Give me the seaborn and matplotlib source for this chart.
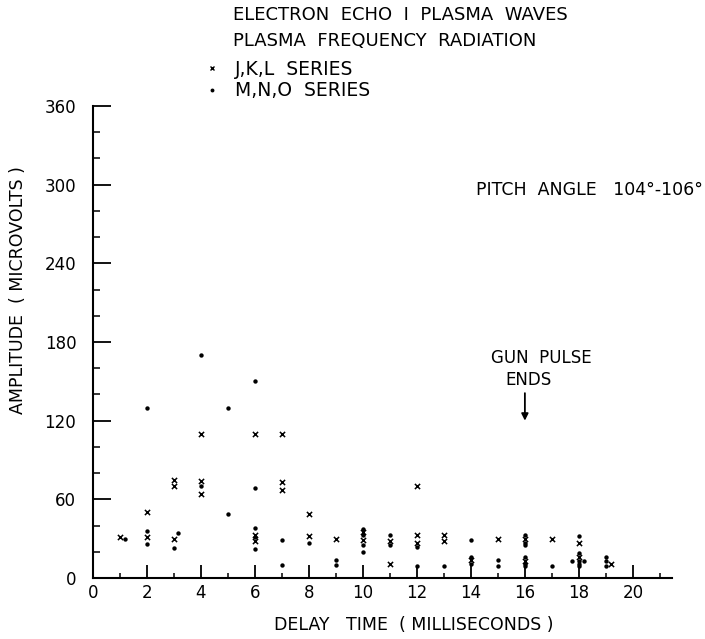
import matplotlib
matplotlib.use("Agg")
import matplotlib.pyplot as plt
import seaborn as sns
import pandas as pd
from matplotlib.lines import Line2D
from matplotlib.ticker import MultipleLocator

# J,K,L series (x markers): delay time (ms) and amplitude (microvolts)
jkl_time = [1.0, 2.0, 2.0, 3.0, 3.0, 3.0, 4.0, 4.0, 4.0, 6.0, 6.0, 6.0,
            7.0, 7.0, 7.0, 8.0, 8.0, 9.0, 10.0, 10.0, 11.0, 11.0,
            12.0, 12.0, 12.0, 13.0, 13.0, 14.0, 15.0, 16.0, 16.0, 17.0,
            18.0, 18.0, 19.2]
jkl_amp = [31, 50, 31, 75, 70, 30, 110, 74, 64, 110, 33, 28,
           110, 73, 67, 49, 32, 30, 35, 29, 28, 11,
           70, 33, 27, 33, 28, 14, 30, 30, 13, 30,
           27, 16, 11]

# M,N,O series (dots)
mno_time = [1.2, 2.0, 2.0, 2.0, 3.15, 3.0, 4.0, 4.0, 5.0, 5.0,
            6.0, 6.0, 6.0, 6.0, 6.0, 7.0, 7.0, 8.0, 9.0, 9.0,
            10.0, 10.0, 10.0, 10.0, 11.0, 11.0, 12.0, 12.0, 13.0,
            14.0, 14.0, 14.0, 15.0, 15.0,
            16.0, 16.0, 16.0, 16.0, 16.0, 16.0, 17.0,
            18.0, 18.0, 18.0, 17.75, 18.2, 18.0, 18.0,
            19.0, 19.0, 19.0]
mno_amp = [30, 130, 36, 26, 34, 23, 170, 70, 130, 49,
           150, 69, 38, 31, 22, 29, 10, 27, 14, 10,
           37, 33, 25, 20, 33, 25, 24, 9, 9,
           29, 16, 11, 14, 9,
           33, 27, 25, 16, 11, 9, 9,
           32, 19, 13, 13, 13, 11, 9,
           16, 13, 9]

series_labels = ["J,K,L  SERIES", "M,N,O  SERIES"]
x_ticks = list(range(0, 21, 2))
y_ticks = list(range(0, 361, 60))

jkl = pd.DataFrame({"time": jkl_time, "amp": jkl_amp})
mno = pd.DataFrame({"time": mno_time, "amp": mno_amp})

sns.set_style("ticks")
plt.rcParams["font.family"] = ["DejaVu Sans"]
plt.rcParams.update({"text.color": "black", "axes.labelcolor": "black",
                     "xtick.color": "black", "ytick.color": "black"})

W, H = 705, 639
FS = 12
fig = plt.figure(figsize=(W / 100, H / 100), dpi=100)
ax = fig.add_axes([93 / W, 1 - 578 / H, 579 / W, (578 - 106) / H])

sns.scatterplot(data=jkl, x="time", y="amp", ax=ax, marker="x", s=14,
                color="black", linewidth=1.1, label=series_labels[0], legend=False)
sns.scatterplot(data=mno, x="time", y="amp", ax=ax, marker="o", s=10,
                color="black", edgecolor="black", linewidth=0,
                label=series_labels[1], legend=False)

ax.set_xlim(0, 21.45)
ax.set_ylim(0, 360)
ax.set_xticks(x_ticks)
ax.set_yticks(y_ticks)
ax.xaxis.set_minor_locator(MultipleLocator(1))
ax.yaxis.set_minor_locator(MultipleLocator(20))
ax.tick_params(axis="x", which="both", bottom=True, top=False)
ax.tick_params(axis="y", which="both", left=True, right=False)
ax.tick_params(axis="x", which="major", direction="in", length=9.5, width=1.3,
               pad=4, labelsize=FS)
ax.tick_params(axis="x", which="minor", direction="in", length=3.8, width=1.1)
ax.tick_params(axis="y", which="major", direction="in", length=13, width=1.3,
               pad=12, labelsize=FS)
ax.tick_params(axis="y", which="minor", direction="in", length=5, width=1.1)
for side in ("top", "right"):
    ax.spines[side].set_visible(False)
for side in ("left", "bottom"):
    ax.spines[side].set_color("black")
    ax.spines[side].set_linewidth(1.5)
ax.set_xlabel("")
ax.set_ylabel("")

fig.text(414 / W, 1 - 625 / H, "DELAY   TIME  ( MILLISECONDS )", ha="center",
         va="center", fontsize=12.5)
fig.text(18 / W, 1 - 290 / H, "AMPLITUDE  ( MICROVOLTS )", ha="center",
         va="center", rotation=90, fontsize=12.5)

fig.text(233 / W, 1 - 15 / H, "ELECTRON  ECHO  I  PLASMA  WAVES", ha="left",
         va="center", fontsize=13)
fig.text(233 / W, 1 - 41 / H, "PLASMA  FREQUENCY  RADIATION", ha="left",
         va="center", fontsize=13)

handles = [Line2D([], [], ls="none", marker="x", ms=3.2, mew=1.0, color="black"),
           Line2D([], [], ls="none", marker="o", ms=2.8, mew=0, color="black")]
ax.legend(handles, series_labels, loc="upper left",
          bbox_to_anchor=(204.5 / W, 1 - 60 / H), bbox_transform=fig.transFigure,
          frameon=False, fontsize=13.5, handlelength=0.8, handletextpad=0.83,
          borderpad=0, borderaxespad=0, labelspacing=0.13)

fig.text(703 / W, 1 - 190 / H, "PITCH  ANGLE   104°-106°", ha="right",
         va="center", fontsize=12.5)

ax.text(16.6, 168, "GUN  PULSE", ha="center", va="center", fontsize=FS)
ax.text(16.15, 151, "ENDS", ha="center", va="center", fontsize=FS)
ax.annotate("", xy=(16.0, 120), xytext=(16.0, 141),
            arrowprops=dict(arrowstyle="-|>", color="black", lw=1.3,
                            mutation_scale=10, shrinkA=0, shrinkB=0))

fig.savefig("out.png", dpi=100, facecolor="white")
